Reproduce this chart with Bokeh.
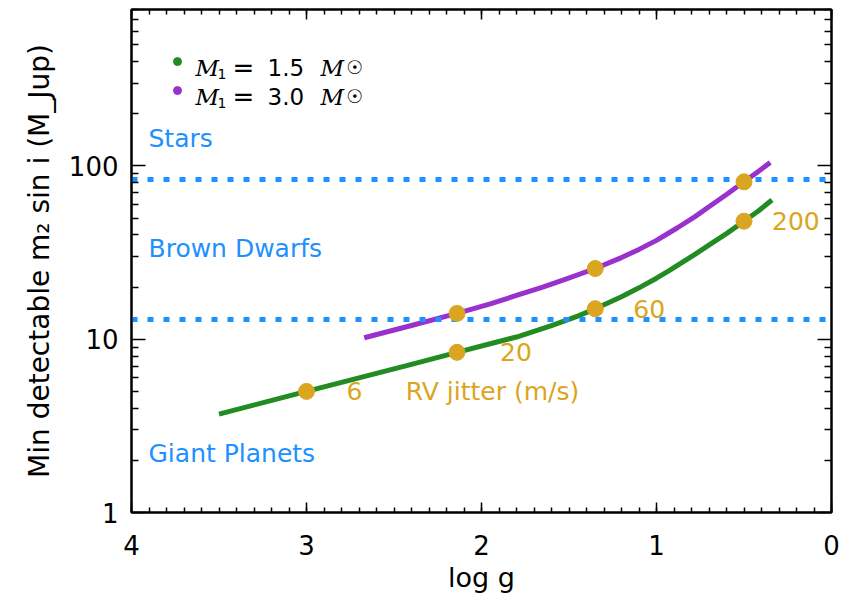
from bokeh.plotting import figure
from bokeh.models import Range1d, FixedTicker, LinearAxis, LogAxis, Label, PrintfTickFormatter
from bokeh.embed import file_html
from bokeh.resources import INLINE

# ---------------- data ----------------
logg_m15 = [3.5, 3.0, 2.6, 2.4, 2.14, 1.95, 1.8, 1.7, 1.6, 1.45, 1.35, 1.2, 1.1, 1.0,
            0.93, 0.86, 0.78, 0.69, 0.6, 0.5, 0.42, 0.34]
mass_m15 = [3.7, 5.0, 6.35, 7.16, 8.4, 9.42, 10.3, 11.1, 12.0, 13.6, 15.0, 17.6, 19.8, 22.5,
            24.8, 27.5, 30.9, 35.5, 40.7, 48.0, 54.8, 63.6]
logg_m30 = [2.67, 2.4, 2.14, 1.95, 1.8, 1.65, 1.51, 1.35, 1.2, 1.1, 1.0, 0.88, 0.78, 0.69,
            0.6, 0.5, 0.42, 0.35]
mass_m30 = [10.2, 12.0, 14.1, 16.0, 17.9, 20.0, 22.4, 25.6, 29.6, 33.0, 37.2, 44.0, 51.0, 59.2,
            68.4, 81.0, 92.7, 104.7]

jitter_logg_m15 = [3.0, 2.14, 1.35, 0.5]
jitter_mass_m15 = [5.0, 8.4, 15.0, 48.0]
jitter_logg_m30 = [2.14, 1.35, 0.5]
jitter_mass_m30 = [14.1, 25.6, 81.0]
jitter_labels = ["6", "20", "60", "200"]

mass_limits = [13, 84]           # deuterium / hydrogen burning limits
region_labels = ["Stars", "Brown Dwarfs", "Giant Planets"]
region_mass = [145, 33.6, 2.19]

x_ticks = [0, 1, 2, 3, 4]
y_ticks = [1, 10, 100]

# ---------------- style ----------------
SANS = "DejaVu Sans"
SERIF = "DejaVu Serif"
GREEN = "#228B22"
PURPLE = "#9932CC"
GOLD = "#DAA520"
BLUE = "#1E90FF"

W, H = 846, 600
p = figure(width=W, height=H, x_range=Range1d(4, 0), y_range=Range1d(1, 800),
           y_axis_type="log", output_backend="svg", toolbar_location=None,
           min_border_left=131, min_border_right=15, min_border_top=9,
           min_border_bottom=88)
p.xgrid.visible = False
p.ygrid.visible = False
p.outline_line_color = "black"
p.outline_line_width = 2
p.background_fill_color = "white"
p.border_fill_color = "white"

# layout helpers: pixel position in the picture -> data coordinate (text placement)
def X(px):
    return 4 - (px - 131) / 175.0

def Y(py):
    return 10 ** ((512 - py) / 173.3)

xt = FixedTicker(ticks=x_ticks, minor_ticks=[i / 10 for i in range(0, 41)])
yt = FixedTicker(ticks=y_ticks, minor_ticks=[m * 10 ** e for e in range(3) for m in range(2, 10)])

def style_axis(ax, tick_in, minor_in):
    ax.axis_line_width = 2
    ax.axis_line_color = "black"
    ax.major_tick_in = tick_in
    ax.major_tick_out = 0
    ax.minor_tick_in = minor_in
    ax.minor_tick_out = 0
    ax.major_tick_line_width = 1.5
    ax.minor_tick_line_width = 1.5
    ax.major_tick_line_color = "black"
    ax.minor_tick_line_color = "black"
    ax.major_label_text_font = SANS
    ax.major_label_text_font_size = "26px"
    ax.major_label_text_color = "black"
    ax.axis_label_text_font = SANS
    ax.axis_label_text_font_size = "27px"
    ax.axis_label_text_font_style = "normal"
    ax.axis_label_text_color = "black"

xa = p.xaxis[0]
xa.ticker = xt
style_axis(xa, 10, 5)
xa.major_label_standoff = 22
xa.axis_label = "log g"
xa.axis_label_standoff = 4

ya = p.yaxis[0]
ya.ticker = yt
ya.formatter = PrintfTickFormatter(format="%d")
style_axis(ya, 14, 7)
ya.axis_label_text_font_size = "28px"
ya.major_label_standoff = 13
ya.axis_label = "Min detectable m\u2082 sin i (M_Jup)"
ya.axis_label_standoff = 10

top = LinearAxis(ticker=xt)
style_axis(top, 10, 5)
top.major_label_text_font_size = "1px"
top.major_label_overrides = {t: "" for t in x_ticks}
top.major_label_standoff = 0
p.add_layout(top, "above")

right = LogAxis(ticker=yt)
style_axis(right, 14, 7)
right.major_label_text_font_size = "1px"
right.major_label_overrides = {t: "" for t in y_ticks}
right.major_label_standoff = 0
p.add_layout(right, "right")

# ---------------- marks ----------------
p.line(logg_m15, mass_m15, line_color=GREEN, line_width=5, line_join="round")
p.line(logg_m30, mass_m30, line_color=PURPLE, line_width=5, line_join="round")
p.hspan(y=mass_limits, line_color=BLUE, line_width=5, line_dash="6 10")
p.scatter(jitter_logg_m15, jitter_mass_m15, size=16, color=GOLD)
p.scatter(jitter_logg_m30, jitter_mass_m30, size=16, color=GOLD)

# jitter labels next to the 1.5 Msun points
for lx, ly, txt, off in zip(jitter_logg_m15, jitter_mass_m15, jitter_labels, [40, 43, 38, 28]):
    p.add_layout(Label(x=lx, y=ly, x_offset=off, text=txt, text_font=SANS,
                       text_font_size="25px", text_color=GOLD,
                       text_baseline="middle", text_align="left"))
p.add_layout(Label(x=X(492), y=jitter_mass_m15[0], text="RV jitter (m/s)", text_font=SANS,
                   text_font_size="25px", text_color=GOLD,
                   text_baseline="middle", text_align="center"))

for txt, m in zip(region_labels, region_mass):
    p.add_layout(Label(x=X(148), y=m, text=txt, text_font=SANS, text_font_size="25px",
                       text_color=BLUE, text_baseline="middle", text_align="left"))

# ---------------- legend (built from pieces) ----------------
for row, (col, val) in enumerate([(GREEN, "1.5"), (PURPLE, "3.0")]):
    base = 67 + 29 * row
    p.scatter([X(177)], [Y(base - 6)], size=8, color=col)
    pieces = [
        ("M", 195, base, SERIF, "italic", "23px"),
        ("1", 217, base + 6, SANS, "normal", "14px"),
        ("=", 232, base, SANS, "normal", "26px"),
        (val, 267, base, SANS, "normal", "23px"),
        ("M", 320, base, SERIF, "italic", "23px"),
    ]
    for t, px, py, f, st, sz in pieces:
        p.add_layout(Label(x=X(px), y=Y(py), text=t, text_font=f, text_font_style=st,
                           text_font_size=sz, text_color="black",
                           text_baseline="alphabetic", text_align="left"))
    p.add_layout(Label(x=X(346), y=Y(base - 1), text="\u2609", text_font=SANS,
                       text_font_size="19px", text_color="black",
                       text_baseline="middle", text_align="left"))

open("out.html", "w").write(file_html(p, INLINE))
